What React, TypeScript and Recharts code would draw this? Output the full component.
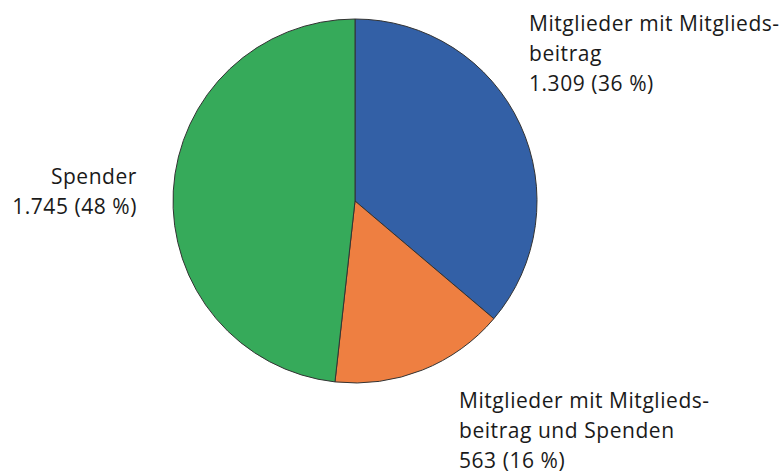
import React from "react";
import { PieChart, Pie, Cell } from "recharts";

const categories = ["Mitglieder mit Mitgliedsbeitrag", "Mitglieder mit Mitgliedsbeitrag und Spenden", "Spender"];
const values = [1309, 563, 1745];
const labelLines = [
  ["Mitglieder mit Mitglieds-", "beitrag", "1.309 (36 %)"],
  ["Mitglieder mit Mitglieds-", "beitrag und Spenden", "563 (16 %)"],
  ["Spender", "1.745 (48 %)"],
];
const colors = ["#3360A6", "#EE7F41", "#36AA5A"];

const labelPos = [
  { x: 529, y: 31, anchor: "start" },
  { x: 459, y: 408, anchor: "start" },
  { x: 137, y: 184, anchor: "end" },
];

const data = categories.map((name, i) => ({ name, value: values[i] }));

const renderLabel = (props: any) => {
  const i = props.index;
  const p = labelPos[i];
  return (
    <text
      key={i}
      x={p.x}
      y={p.y}
      textAnchor={p.anchor}
      fill="#1a1a1a"
      fontSize={21}
      letterSpacing={0.55}
      fontFamily="'Open Sans', sans-serif"
    >
      {labelLines[i].map((t, j) => (
        <tspan key={j} x={p.x} dy={j === 0 ? 0 : 30}>
          {t}
        </tspan>
      ))}
    </text>
  );
};

export default function App() {
  return (
    <div style={{ position: "absolute", left: 0, top: 0, background: "#fff" }}>
      <PieChart width={783} height={473} margin={{ top: 0, right: 0, bottom: 0, left: 0 }}>
        <Pie
          data={data}
          dataKey="value"
          cx={355}
          cy={201}
          outerRadius={182}
          startAngle={90}
          endAngle={-270}
          stroke="#333"
          strokeWidth={1}
          label={renderLabel}
          labelLine={false}
          isAnimationActive={false}
        >
          {data.map((d, i) => (
            <Cell key={d.name} fill={colors[i]} />
          ))}
        </Pie>
      </PieChart>
    </div>
  );
}
